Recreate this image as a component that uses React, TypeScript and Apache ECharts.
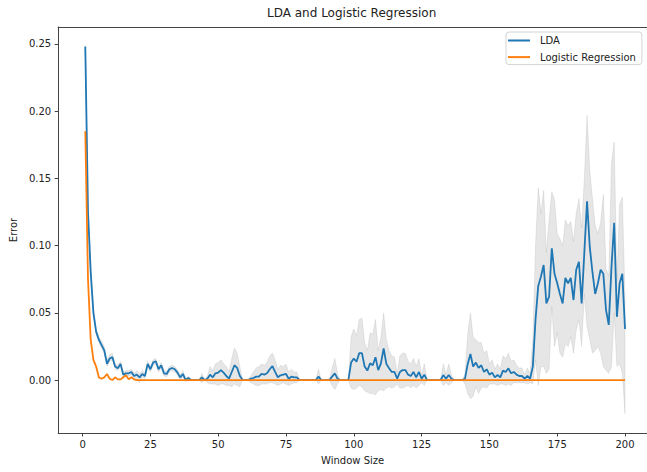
import React, { useEffect, useRef } from "react";
import * as echarts from "echarts";

const titleText = "LDA and Logistic Regression";
const xAxisName = "Window Size";
const yAxisName = "Error";
const xTicks = [0, 25, 50, 75, 100, 125, 150, 175, 200];
const yTicks = [0, 0.05, 0.1, 0.15, 0.2, 0.25];

// window sizes 1..200
const windowSizes: number[] = Array.from({ length: 200 }, (_, i) => i + 1);

const ldaError = [
  0.248, 0.125, 0.08, 0.05, 0.036, 0.03, 0.026, 0.022, 0.012, 0.016,
  0.017, 0.01, 0.0087, 0.012, 0.004, 0.005, 0.005, 0.006, 0.003, 0.004,
  0.002, 0.0045, 0.003, 0.012, 0.008, 0.013, 0.014, 0.008, 0.011, 0.005,
  0.0045, 0.008, 0.009, 0.008, 0.0055, 0.002, 0.0045, 0.0, 0.0015, 0.0,
  0.0, 0.0, 0.0, 0.002, 0.0, 0.001, 0.004, 0.002, 0.005, 0.0055,
  0.0074, 0.0055, 0.003, 0.001, 0.006, 0.011, 0.009, 0.003, 0.0, 0.0,
  0.0, 0.001, 0.0015, 0.0025, 0.0025, 0.0045, 0.004, 0.005, 0.008, 0.0104,
  0.006, 0.002, 0.0035, 0.004, 0.0045, 0.001, 0.0025, 0.002, 0.002, 0.0,
  0.0, 0.0, 0.0, 0.0, 0.0, 0.0, 0.0025, 0.0, 0.0, 0.0,
  0.0, 0.0025, 0.005, 0.001, 0.0, 0.0, 0.0, 0.0, 0.013, 0.016,
  0.0136, 0.02, 0.02, 0.01, 0.007, 0.0124, 0.011, 0.017, 0.0074, 0.0124,
  0.0236, 0.012, 0.0087, 0.006, 0.006, 0.001, 0.006, 0.0074, 0.0074, 0.004,
  0.003, 0.006, 0.002, 0.006, 0.001, 0.004, 0.0, 0.0, 0.0, 0.0,
  0.0, 0.0, 0.0037, 0.001, 0.0037, 0.001, 0.0, 0.0, 0.0, 0.0,
  0.001, 0.012, 0.0194, 0.01, 0.013, 0.009, 0.011, 0.006, 0.008, 0.004,
  0.0055, 0.002, 0.0037, 0.002, 0.007, 0.006, 0.0087, 0.005, 0.006, 0.004,
  0.003, 0.003, 0.001, 0.003, 0.001, 0.01, 0.045, 0.07, 0.077, 0.0856,
  0.057, 0.062, 0.098, 0.079, 0.072, 0.064, 0.057, 0.076, 0.072, 0.076,
  0.0595, 0.082, 0.088, 0.057, 0.095, 0.133, 0.099, 0.08, 0.064, 0.072,
  0.082, 0.079, 0.052, 0.041, 0.084, 0.117, 0.047, 0.072, 0.079, 0.038,
];

const ldaLower = [
  0.246, 0.12, 0.076, 0.047, 0.034, 0.028, 0.024, 0.02, 0.01, 0.014,
  0.015, 0.008, 0.007, 0.01, 0.002, 0.003, 0.003, 0.004, 0.0, 0.0,
  -0.002, 0.002, 0.001, 0.01, 0.006, 0.011, 0.012, 0.006, 0.009, 0.003,
  0.0025, 0.006, 0.007, 0.006, 0.0035, 0.0, 0.002, -0.001, 0.0, 0.0,
  0.0, 0.0, 0.0, -0.002, 0.0, -0.002, -0.003, -0.003, -0.003, -0.004,
  -0.003, -0.003, -0.004, -0.004, -0.005, -0.003, -0.004, -0.005, 0.0, 0.0,
  0.0, -0.002, -0.003, -0.004, -0.004, -0.003, -0.003, -0.003, -0.002, -0.002,
  -0.003, -0.004, -0.003, -0.002, -0.003, -0.004, -0.003, -0.002, -0.002, 0.0,
  0.0, 0.0, 0.0, 0.0, 0.0, 0.0, -0.003, 0.0, 0.0, 0.0,
  0.0, -0.004, -0.007, -0.003, 0.0, 0.0, 0.0, 0.0, -0.006, -0.007,
  -0.006, -0.004, -0.005, -0.008, -0.009, -0.01, -0.01, -0.011, -0.008, -0.007,
  -0.008, -0.006, -0.005, -0.006, -0.005, -0.003, -0.006, -0.006, -0.005, -0.004,
  -0.006, -0.004, -0.006, -0.004, -0.002, -0.004, 0.0, 0.0, 0.0, 0.0,
  0.0, 0.0, -0.004, -0.002, -0.004, -0.002, 0.0, 0.0, 0.0, 0.0,
  -0.003, -0.01, -0.014, -0.012, -0.005, -0.01, -0.006, -0.005, -0.006, -0.003,
  -0.003, -0.003, -0.004, -0.003, -0.003, -0.004, -0.003, -0.004, -0.002, -0.002,
  -0.002, -0.002, -0.002, -0.003, -0.002, -0.003, 0.015, -0.004, 0.01, 0.01,
  0.005, 0.008, 0.0546, 0.025, 0.035, 0.02, 0.017, 0.027, 0.025, 0.032,
  0.02, 0.037, 0.045, 0.025, 0.064, 0.04, 0.03, 0.02, 0.022, 0.025,
  0.02, 0.01, 0.007, 0.005, 0.01, 0.05, 0.01, 0.012, 0.005, -0.025,
];

const ldaUpper = [
  0.249, 0.13, 0.085, 0.053, 0.038, 0.032, 0.029, 0.025, 0.015, 0.019,
  0.02, 0.012, 0.011, 0.014, 0.006, 0.007, 0.007, 0.008, 0.005, 0.007,
  0.005, 0.007, 0.005, 0.014, 0.01, 0.015, 0.016, 0.01, 0.013, 0.007,
  0.0065, 0.01, 0.011, 0.01, 0.0075, 0.004, 0.007, 0.001, 0.003, 0.0,
  0.0, 0.0, 0.0, 0.005, 0.0, 0.003, 0.01, 0.007, 0.012, 0.013,
  0.015, 0.012, 0.01, 0.006, 0.016, 0.024, 0.02, 0.01, 0.0, 0.0,
  0.0, 0.003, 0.006, 0.009, 0.01, 0.012, 0.011, 0.013, 0.018, 0.02,
  0.015, 0.008, 0.011, 0.01, 0.012, 0.006, 0.008, 0.006, 0.006, 0.0,
  0.0, 0.0, 0.0, 0.0, 0.0, 0.0, 0.008, 0.0, 0.0, 0.0,
  0.0, 0.009, 0.016, 0.005, 0.0, 0.0, 0.0, 0.0, 0.032, 0.038,
  0.033, 0.045, 0.046, 0.028, 0.022, 0.035, 0.034, 0.045, 0.022, 0.032,
  0.05, 0.03, 0.022, 0.018, 0.017, 0.005, 0.018, 0.02, 0.02, 0.014,
  0.012, 0.016, 0.01, 0.016, 0.004, 0.012, 0.0, 0.0, 0.0, 0.0,
  0.0, 0.0, 0.012, 0.004, 0.012, 0.004, 0.0, 0.0, 0.0, 0.0,
  0.005, 0.034, 0.05, 0.032, 0.03, 0.028, 0.028, 0.02, 0.022, 0.012,
  0.015, 0.008, 0.012, 0.008, 0.018, 0.016, 0.02, 0.014, 0.015, 0.011,
  0.009, 0.009, 0.004, 0.009, 0.005, 0.03, 0.1, 0.143, 0.124, 0.141,
  0.095, 0.119, 0.14, 0.134, 0.109, 0.105, 0.1, 0.119, 0.115, 0.118,
  0.103, 0.124, 0.135, 0.113, 0.15, 0.197, 0.156, 0.135, 0.115, 0.109,
  0.117, 0.138, 0.083, 0.077, 0.161, 0.177, 0.074, 0.131, 0.136, 0.062,
];

const lrError = [
  0.185, 0.075, 0.03, 0.015, 0.01, 0.002, 0.001, 0.002, 0.0045, 0.001,
  0.0, 0.002, 0.0005, 0.0005, 0.002, 0.0035, 0.0005, 0.002, 0.0005, 0.0,
  ...Array(180).fill(0),
];

const FONT = "DejaVu Sans";
const SPINE = "#444";

export default function App() {
  const ref = useRef<HTMLDivElement>(null);
  useEffect(() => {
    if (!ref.current) return;
    const chart = echarts.init(ref.current, undefined, { renderer: "svg" });
    const ldaData = windowSizes.map((x, i) => [x, ldaError[i]]);
    const lrData = windowSizes.map((x, i) => [x, lrError[i]]);
    const xMin = -9.0;
    const xMax = 208.1;
    chart.setOption({
      animation: false,
      backgroundColor: "#ffffff",
      textStyle: { fontFamily: FONT },
      title: {
        text: titleText,
        left: 267,
        top: 7,
        padding: 0,
        textStyle: { fontFamily: FONT, fontSize: 12, fontWeight: "normal", color: "#222" },
      },
      legend: {
        data: ["LDA", "Logistic Regression"],
        orient: "vertical",
        left: 506,
        top: 32,
        icon: "rect",
        itemWidth: 22,
        itemHeight: 2,
        itemGap: 2.6,
        padding: [1.5, 6, 0.5, 2],
        borderColor: "#d4d4d4",
        borderWidth: 1,
        borderRadius: 3,
        backgroundColor: "rgba(255,255,255,0.8)",
        textStyle: { fontFamily: FONT, fontSize: 10, color: "#222", lineHeight: 14, padding: [0, 0, 0, 5] },
      },
      grid: {
        left: 56,
        right: 0,
        top: 27,
        bottom: 39,
        show: false,
      },
      xAxis: [
        {
          type: "value",
          min: xMin,
          max: xMax,
          name: xAxisName,
          nameLocation: "middle",
          nameGap: 22,
          nameTextStyle: { fontFamily: FONT, fontSize: 10, color: "#222", verticalAlign: "top" },
          axisLine: { show: true, onZero: false, lineStyle: { color: SPINE, width: 1 } },
          axisTick: { show: true, length: 3.5, inside: false, customValues: xTicks, lineStyle: { color: SPINE } },
          axisLabel: { customValues: xTicks, fontFamily: FONT, fontSize: 10, color: "#222", margin: 6 },
          splitLine: { show: false },
        },
        {
          type: "value",
          position: "top",
          min: xMin,
          max: xMax,
          axisLine: { show: true, onZero: false, lineStyle: { color: SPINE, width: 1 } },
          axisTick: { show: false },
          axisLabel: { show: false },
          splitLine: { show: false },
        },
      ],
      yAxis: {
        type: "value",
        min: -0.0394,
        max: 0.2626,
        name: yAxisName,
        nameLocation: "middle",
        nameGap: 36,
        nameTextStyle: { fontFamily: FONT, fontSize: 10, color: "#222" },
        axisLine: { show: true, onZero: false, lineStyle: { color: SPINE, width: 1 } },
        axisTick: { show: true, length: 3.5, customValues: yTicks, lineStyle: { color: SPINE } },
        axisLabel: {
          customValues: yTicks,
          fontFamily: FONT,
          fontSize: 10,
          color: "#222",
          margin: 7,
          formatter: (v: number) => v.toFixed(2),
        },
        splitLine: { show: false },
      },
      series: [
        {
          type: "custom",
          name: "band",
          silent: true,
          z: 1,
          xAxisIndex: 0,
          data: [[1, 0]],
          renderItem: (_params: any, api: any) => {
            const pts: number[][] = [];
            for (let i = 0; i < windowSizes.length; i++) pts.push(api.coord([windowSizes[i], ldaUpper[i]]));
            for (let i = windowSizes.length - 1; i >= 0; i--) pts.push(api.coord([windowSizes[i], ldaLower[i]]));
            return {
              type: "polygon",
              shape: { points: pts },
              style: { fill: "rgba(128,128,128,0.2)", stroke: "rgba(128,128,128,0.15)", lineWidth: 1 },
            };
          },
        },
        {
          type: "line",
          name: "LDA",
          xAxisIndex: 0,
          data: ldaData,
          showSymbol: false,
          symbol: "none",
          z: 2,
          color: "#1f77b4",
          lineStyle: { color: "#1f77b4", width: 1.8 },
        },
        {
          type: "line",
          name: "Logistic Regression",
          xAxisIndex: 0,
          data: lrData,
          showSymbol: false,
          symbol: "none",
          z: 3,
          color: "#ff7f0e",
          lineStyle: { color: "#ff7f0e", width: 1.8 },
        },
      ],
    });
    return () => chart.dispose();
  }, []);
  return <div ref={ref} style={{ width: 647, height: 472, position: "absolute", left: 0, top: 0 }} />;
}
